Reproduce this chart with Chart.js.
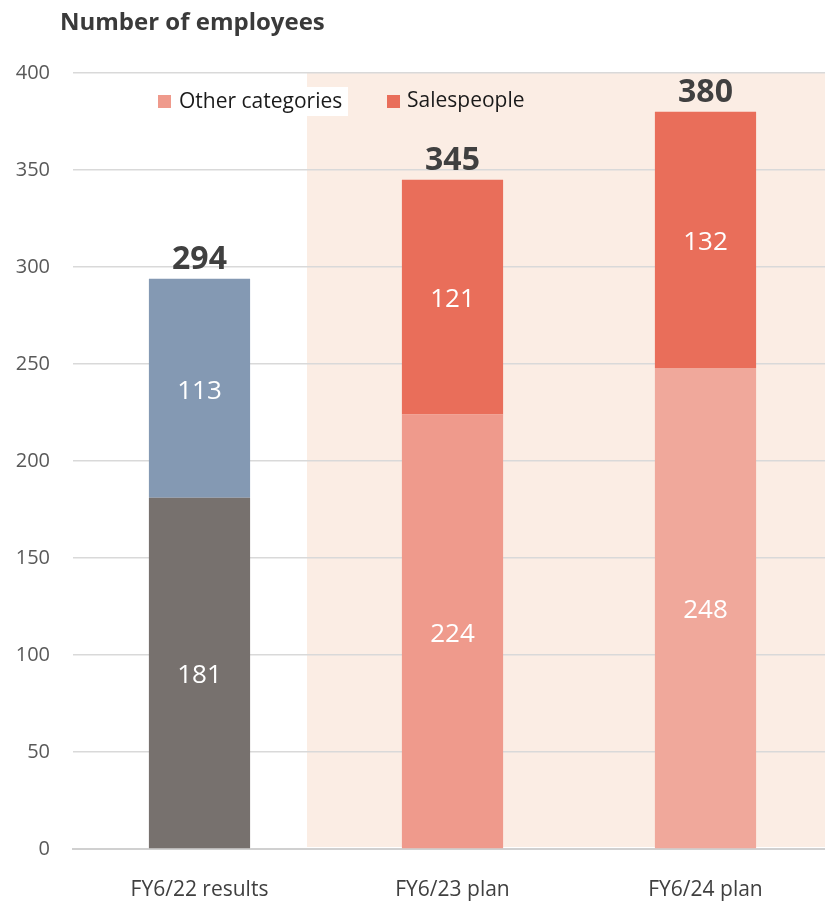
<!DOCTYPE html>
<html><head><meta charset="utf-8">
<script src="https://cdn.jsdelivr.net/npm/chart.js@4/dist/chart.umd.min.js"></script>
<style>html,body{margin:0;padding:0;overflow:hidden;background:#fff;width:825px;height:903px}#wrap{position:absolute;left:0;top:0;width:832px;height:903px}</style>
</head><body><div id="wrap"><canvas id="c" width="832" height="903"></canvas></div>
<script>
const categories = ["FY6/22 results", "FY6/23 plan", "FY6/24 plan"];
const otherCategories = [181, 224, 248];
const salespeople = [113, 121, 132];
const totals = [294, 345, 380];
const yTicks = [0, 50, 100, 150, 200, 250, 300, 350, 400];
const seriesNames = ["Other categories", "Salespeople"];
const FONT = "'Open Sans', 'Noto Sans', sans-serif";

const bgPlugin = {
  id: 'bg',
  beforeDraw(chart) {
    const {ctx, chartArea, scales} = chart;
    const x0 = scales.x.getPixelForValue(0.425);
    ctx.save();
    ctx.fillStyle = '#FBEDE4';
    ctx.fillRect(x0, chartArea.top, chart.width - x0, chartArea.bottom - chartArea.top - 2);
    ctx.restore();
  }
};
const labelPlugin = {
  id: 'labels',
  afterDraw(chart) {
    const {ctx} = chart;
    ctx.save();
    // title
    ctx.fillStyle = '#3a3a3a';
    ctx.font = "bold 24px " + FONT;
    ctx.textBaseline = 'middle';
    ctx.textAlign = 'left';
    ctx.fillText('Number of employees', 60, 23);
    // segment labels
    ctx.font = "26px " + FONT;
    ctx.fillStyle = '#ffffff';
    ctx.textAlign = 'center';
    chart.data.datasets.forEach((ds, di) => {
      const meta = chart.getDatasetMeta(di);
      meta.data.forEach((bar, i) => {
        const y = (bar.y + bar.base) / 2 + 3;
        ctx.fillText(String(ds.data[i]), bar.x, y);
      });
    });
    // totals
    ctx.font = "bold 32px " + FONT;
    ctx.fillStyle = '#404040';
    const meta1 = chart.getDatasetMeta(1);
    meta1.data.forEach((bar, i) => {
      ctx.fillText(String(totals[i]), bar.x, bar.y - 19);
    });
    // legend
    ctx.fillStyle = '#ffffff';
    ctx.fillRect(152, 87, 196, 29);
    ctx.fillStyle = '#EF9A8C';
    ctx.fillRect(158, 95, 13, 13);
    ctx.fillStyle = '#E96E5A';
    ctx.fillRect(387, 95, 13, 13);
    ctx.fillStyle = '#1a1a1a';
    ctx.font = "21px " + FONT;
    ctx.textAlign = 'left';
    ctx.fillText(seriesNames[0], 179, 102);
    ctx.fillText(seriesNames[1], 407, 101);
    ctx.restore();
  }
};

new Chart(document.getElementById('c'), {
  type: 'bar',
  data: {
    labels: categories,
    datasets: [
      { label: seriesNames[0], data: otherCategories,
        backgroundColor: ['#77716E', '#EF9A8C', '#F0A89B'], borderWidth: 0 },
      { label: seriesNames[1], data: salespeople,
        backgroundColor: ['#8499B3', '#E96E5A', '#E96E5A'], borderWidth: 0 }
    ]
  },
  options: {
    responsive: false,
    animation: false,
    layout: { padding: { top: 73, left: 0, right: 0, bottom: 0 } },
    plugins: { legend: { display: false }, tooltip: { enabled: false } },
    datasets: { bar: { barPercentage: 0.4, categoryPercentage: 1 } },
    scales: {
      x: {
        stacked: true,
        grid: { display: false },
        border: { display: true, color: '#D0D0D0', width: 2 },
        ticks: { color: '#404040', font: { family: FONT, size: 21 }, padding: 20 },
        afterFit(s) { s.height = 54; }
      },
      y: {
        stacked: true,
        min: 0, max: 400,
        afterBuildTicks(s) { s.ticks = yTicks.map(v => ({ value: v })); },
        grid: { color: '#D9D9D9', lineWidth: 1.5, drawTicks: false },
        border: { display: false },
        ticks: { color: '#595959', font: { family: FONT, size: 20 }, padding: 23 },
        afterFit(s) { s.width = 73; }
      }
    }
  },
  plugins: [bgPlugin, labelPlugin]
});
</script></body></html>
